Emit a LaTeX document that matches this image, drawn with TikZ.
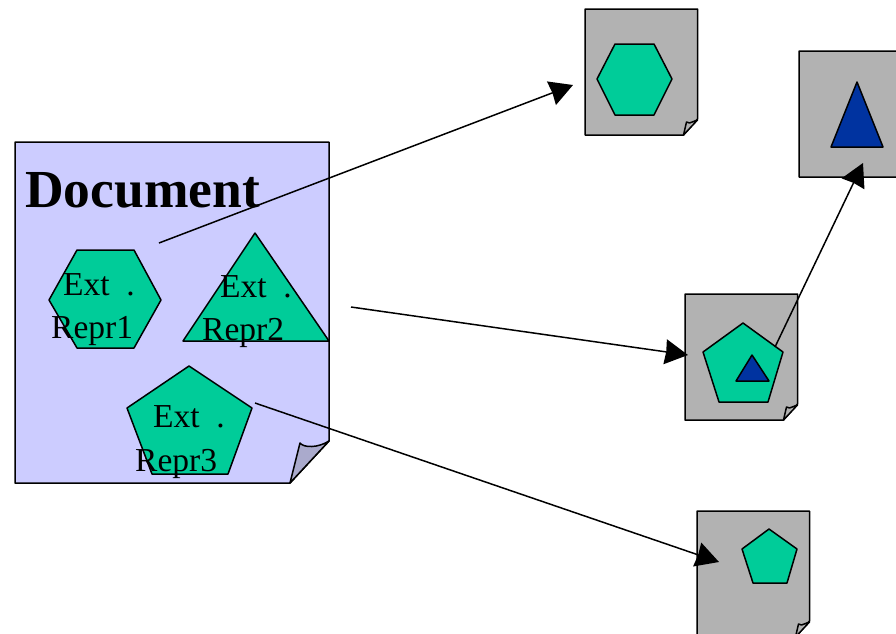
\documentclass[tikz,border=0pt]{standalone}
\usepackage{fontspec}
\setmainfont{Liberation Serif}
\usetikzlibrary{arrows.meta}

\definecolor{docblue}{HTML}{CCCCFF}
\definecolor{foldblue}{HTML}{AAAACC}
\definecolor{reprgreen}{HTML}{00CC99}
\definecolor{deepblue}{HTML}{0033A0}
\definecolor{pagegray}{HTML}{B2B2B2}

\begin{document}
\begin{tikzpicture}[x=1pt, y=-1pt, line join=round,
	outline/.style={draw=black, line width=1.5pt},
	docpage/.style={outline, fill=docblue},
	foldcorner/.style={outline, fill=foldblue},
	graypage/.style={outline, fill=pagegray},
	repr/.style={outline, fill=reprgreen},
	inner/.style={outline, fill=deepblue},
	label/.style={anchor=base west, inner sep=0pt, font=\fontsize{33.5}{33.5}\selectfont},
	link/.style={-{Stealth[length=23pt, width=25pt, inset=1pt]}, line width=1.5pt}]
	\clip (0,0) rectangle (896,633);
	\useasboundingbox (0,0) rectangle (896,633);

	% main document
	\draw [docpage] (15,142) -- (329,142) -- (329,441) -- (290,483) -- (15,483) -- cycle;
	\draw [foldcorner] (290,483) -- (300,443) .. controls (304,448) and (318,448) .. (329,441) -- cycle;
	\node [anchor=base west, inner sep=0pt, font=\fontsize{53.5}{53.5}\selectfont\bfseries] (title) at (25,207) {Document};

	\draw [repr] (49,300) -- (77,250) -- (134,250) -- (161,300) -- (134,348) -- (77,348) -- cycle;
	\draw [repr] (255,233) -- (329,341) -- (183,341) -- cycle;
	\draw [repr] (189,366) -- (252,408) -- (228,474) -- (152,474) -- (127,408) -- cycle;

	\node [label] (ext1) at (63,295) {Ext\ \ .};
	\node [label] (repr1) at (51,338) {Repr1};
	\node [label] (ext2) at (220,297) {Ext\ \ .};
	\node [label] (repr2) at (202,340) {Repr2};
	\node [label] (ext3) at (153,427) {Ext\ \ .};
	\node [label] (repr3) at (135,471) {Repr3};

	% gray pages
	\foreach \px/\py in {585/9, 685/294, 697/511, 799/51} {
		\draw [graypage] (\px,\py) -- ++(112.5,0) -- ++(0,110) -- ++(-14,16) -- ++(-98.5,0) -- cycle;
		\draw [graypage] (\px+98.5,\py+126) -- ++(3,-13) -- ++(3,1) -- ++(8,-3) -- cycle;
	}

	\draw [repr] (597,79) -- (615,44) -- (654,44) -- (672,79) -- (654,115) -- (615,115) -- cycle;
	\draw [repr] (743,323) -- (783,352) -- (768,402) -- (719,402) -- (703,352) -- cycle;
	\draw [inner] (752,355) -- (769,381) -- (736,381) -- cycle;
	\draw [repr] (769,529) -- (797,549) -- (787,583) -- (753,583) -- (742,549) -- cycle;
	\draw [inner] (857,82) -- (883,147) -- (831,147) -- cycle;

	% links
	\coordinate (a_from) at (159,243);
	\coordinate (a_to) at (573,85);
	\coordinate (b_from) at (351,307);
	\coordinate (b_to) at (688,355);
	\coordinate (c_from) at (255,403);
	\coordinate (c_to) at (719,562);
	\coordinate (d_from) at (775,347);
	\coordinate (d_to) at (863,163);

	\draw [link] (a_from) -- (a_to);
	\draw [link] (b_from) -- (b_to);
	\draw [link] (c_from) -- (c_to);
	\draw [link] (d_from) -- (d_to);
\end{tikzpicture}
\end{document}
